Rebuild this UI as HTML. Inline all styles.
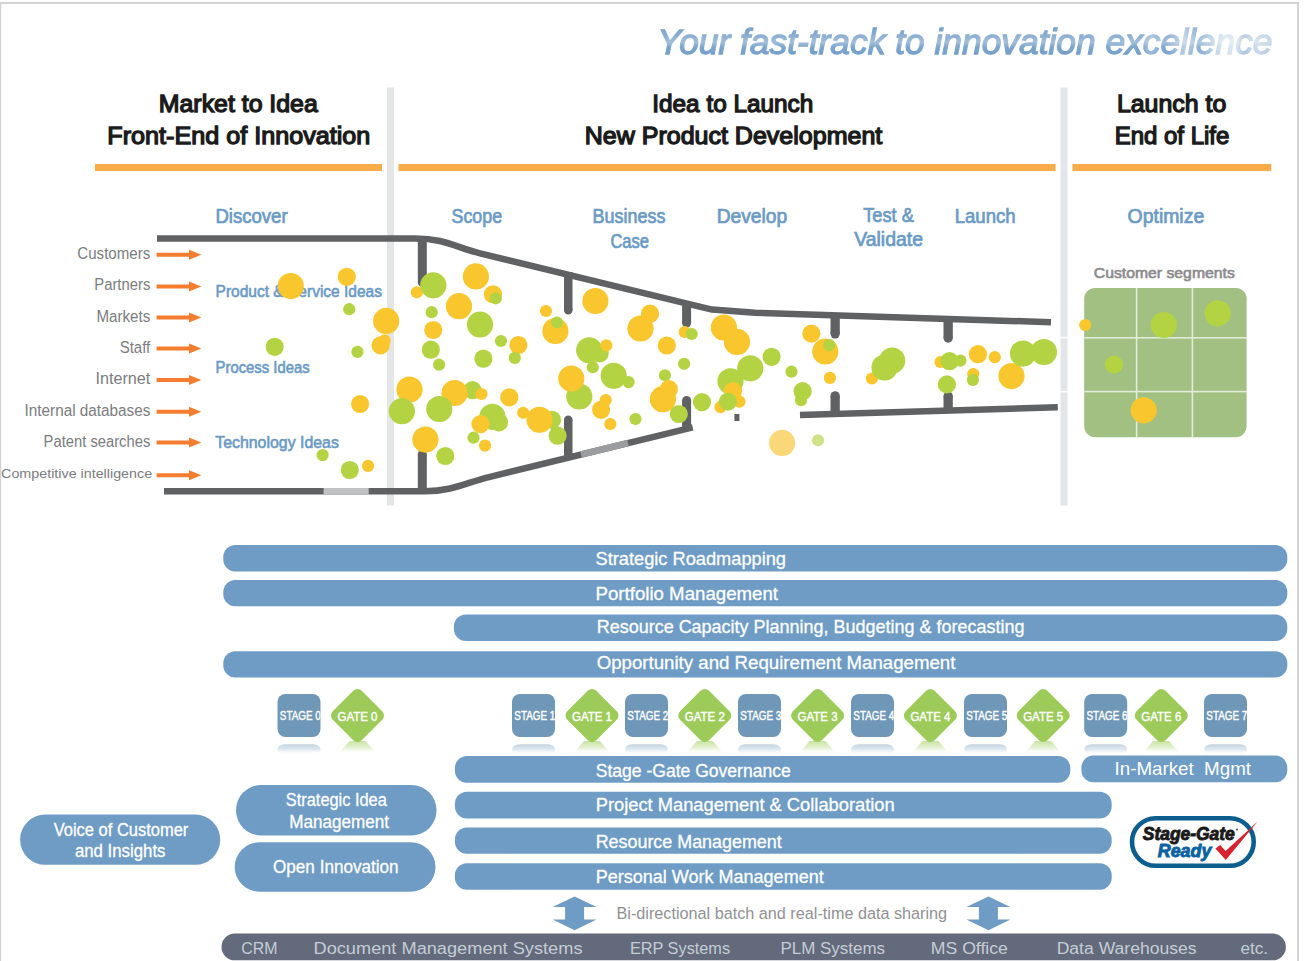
<!DOCTYPE html>
<html><head><meta charset="utf-8"><style>
html,body{margin:0;padding:0;background:#fff;}
svg{display:block;font-family:"Liberation Sans",sans-serif;}
</style></head><body>
<svg width="1308" height="961" viewBox="0 0 1308 961">
<defs>
<linearGradient id="tg" x1="0" y1="0" x2="0" y2="1">
<stop offset="0" stop-color="#6d9ac5"/><stop offset="0.3" stop-color="#86abd0"/><stop offset="0.5" stop-color="#a3bfda"/><stop offset="0.62" stop-color="#7ea6cd"/><stop offset="1" stop-color="#6898c5"/>
</linearGradient>
<linearGradient id="rs" x1="0" y1="0" x2="0" y2="1">
<stop offset="0" stop-color="#c3d3e0"/><stop offset="0.55" stop-color="#e3ebf1"/><stop offset="1" stop-color="#ffffff" stop-opacity="0"/>
</linearGradient>
<linearGradient id="rg" x1="0" y1="0" x2="0" y2="1">
<stop offset="0" stop-color="#c8e3a0"/><stop offset="0.55" stop-color="#e6f2d6"/><stop offset="1" stop-color="#ffffff" stop-opacity="0"/>
</linearGradient>
<linearGradient id="fadeg" gradientUnits="userSpaceOnUse" x1="1100" y1="0" x2="1280" y2="0">
<stop offset="0" stop-color="#fff"/><stop offset="0.22" stop-color="#fff"/><stop offset="0.28" stop-color="#bbb"/><stop offset="0.36" stop-color="#fff"/>
<stop offset="0.47" stop-color="#888"/><stop offset="0.55" stop-color="#ddd"/><stop offset="0.67" stop-color="#555"/><stop offset="0.75" stop-color="#444"/>
<stop offset="0.8" stop-color="#999"/><stop offset="0.88" stop-color="#666"/><stop offset="1" stop-color="#aaa"/>
</linearGradient>
<mask id="fadem" maskUnits="userSpaceOnUse" x="0" y="0" width="1308" height="100"><rect x="0" y="0" width="1308" height="100" fill="url(#fadeg)"/></mask>
</defs>
<rect x="0" y="2" width="1299" height="1.9" fill="#d2d2d2"/><rect x="0" y="2" width="1.2" height="959" fill="#d2d2d2"/><rect x="1297" y="2" width="1.9" height="959" fill="#d2d2d2"/>
<text x="657.5" y="54.2" font-size="35.5" fill="url(#tg)" font-weight="normal" text-anchor="start" font-style="italic" textLength="615" lengthAdjust="spacingAndGlyphs" mask="url(#fadem)" stroke="url(#tg)" stroke-width="1.3">Your fast-track to innovation excellence</text>
<text x="238.3" y="111.7" font-size="24.6" fill="#1b1b1b" font-weight="normal" text-anchor="middle" textLength="159" lengthAdjust="spacingAndGlyphs" stroke="#1b1b1b" stroke-width="1.35">Market to Idea</text>
<text x="238.8" y="143.7" font-size="24.6" fill="#1b1b1b" font-weight="normal" text-anchor="middle" textLength="263" lengthAdjust="spacingAndGlyphs" stroke="#1b1b1b" stroke-width="1.35">Front-End of Innovation</text>
<text x="732.8" y="111.7" font-size="24.6" fill="#1b1b1b" font-weight="normal" text-anchor="middle" textLength="161" lengthAdjust="spacingAndGlyphs" stroke="#1b1b1b" stroke-width="1.35">Idea to Launch</text>
<text x="733.5" y="143.7" font-size="24.6" fill="#1b1b1b" font-weight="normal" text-anchor="middle" textLength="297.6" lengthAdjust="spacingAndGlyphs" stroke="#1b1b1b" stroke-width="1.35">New Product Development</text>
<text x="1171.6" y="111.8" font-size="24.6" fill="#1b1b1b" font-weight="normal" text-anchor="middle" textLength="109.3" lengthAdjust="spacingAndGlyphs" stroke="#1b1b1b" stroke-width="1.35">Launch to</text>
<text x="1172" y="144" font-size="24.6" fill="#1b1b1b" font-weight="normal" text-anchor="middle" textLength="114.7" lengthAdjust="spacingAndGlyphs" stroke="#1b1b1b" stroke-width="1.35">End of Life</text>
<rect x="95" y="164" width="287" height="7" fill="#f9ab49"/>
<rect x="398.5" y="164" width="657" height="7" fill="#f9ab49"/>
<rect x="1072.5" y="164" width="198.7" height="7" fill="#f9ab49"/>
<rect x="387" y="87.5" width="7" height="418" fill="#e4e5e7"/>
<rect x="1060.5" y="87.5" width="7" height="418" fill="#e4e5e7"/>
<rect x="1060.5" y="337" width="7" height="1.5" fill="#fff"/><rect x="1060.5" y="391" width="7" height="1.5" fill="#fff"/>
<text x="215.4" y="223.1" font-size="19.5" fill="#6a9ac5" font-weight="normal" text-anchor="start" textLength="72.2" lengthAdjust="spacingAndGlyphs" stroke="#6a9ac5" stroke-width="0.7">Discover</text>
<text x="451.5" y="223.1" font-size="19.5" fill="#6a9ac5" font-weight="normal" text-anchor="start" textLength="50.6" lengthAdjust="spacingAndGlyphs" stroke="#6a9ac5" stroke-width="0.7">Scope</text>
<text x="592.5" y="223.3" font-size="19.5" fill="#6a9ac5" font-weight="normal" text-anchor="start" textLength="72.9" lengthAdjust="spacingAndGlyphs" stroke="#6a9ac5" stroke-width="0.7">Business</text>
<text x="610.4" y="248.3" font-size="19.5" fill="#6a9ac5" font-weight="normal" text-anchor="start" textLength="38.6" lengthAdjust="spacingAndGlyphs" stroke="#6a9ac5" stroke-width="0.7">Case</text>
<text x="716.7" y="223.3" font-size="19.5" fill="#6a9ac5" font-weight="normal" text-anchor="start" textLength="70.5" lengthAdjust="spacingAndGlyphs" stroke="#6a9ac5" stroke-width="0.7">Develop</text>
<text x="863.2" y="221.6" font-size="19.5" fill="#6a9ac5" font-weight="normal" text-anchor="start" textLength="50.6" lengthAdjust="spacingAndGlyphs" stroke="#6a9ac5" stroke-width="0.7">Test &amp;</text>
<text x="854.2" y="246" font-size="19.5" fill="#6a9ac5" font-weight="normal" text-anchor="start" textLength="68.9" lengthAdjust="spacingAndGlyphs" stroke="#6a9ac5" stroke-width="0.7">Validate</text>
<text x="954.7" y="223.3" font-size="19.5" fill="#6a9ac5" font-weight="normal" text-anchor="start" textLength="61" lengthAdjust="spacingAndGlyphs" stroke="#6a9ac5" stroke-width="0.7">Launch</text>
<text x="1127.6" y="223.3" font-size="19.5" fill="#6a9ac5" font-weight="normal" text-anchor="start" textLength="76.6" lengthAdjust="spacingAndGlyphs" stroke="#6a9ac5" stroke-width="0.7">Optimize</text>
<text x="150.3" y="259" font-size="16" fill="#7b7c7f" font-weight="normal" text-anchor="end" textLength="73" lengthAdjust="spacingAndGlyphs">Customers</text>
<text x="150.3" y="290.2" font-size="16" fill="#7b7c7f" font-weight="normal" text-anchor="end" textLength="56" lengthAdjust="spacingAndGlyphs">Partners</text>
<text x="150.3" y="321.5" font-size="16" fill="#7b7c7f" font-weight="normal" text-anchor="end" textLength="53.8" lengthAdjust="spacingAndGlyphs">Markets</text>
<text x="150.3" y="352.7" font-size="16" fill="#7b7c7f" font-weight="normal" text-anchor="end" textLength="30.6" lengthAdjust="spacingAndGlyphs">Staff</text>
<text x="150.3" y="384.3" font-size="16" fill="#7b7c7f" font-weight="normal" text-anchor="end" textLength="54.8" lengthAdjust="spacingAndGlyphs">Internet</text>
<text x="150.3" y="415.5" font-size="16" fill="#7b7c7f" font-weight="normal" text-anchor="end" textLength="125.7" lengthAdjust="spacingAndGlyphs">Internal databases</text>
<text x="150.3" y="446.6" font-size="16" fill="#7b7c7f" font-weight="normal" text-anchor="end" textLength="106.7" lengthAdjust="spacingAndGlyphs">Patent searches</text>
<text x="152.1" y="477.7" font-size="13.5" fill="#7b7c7f" font-weight="normal" text-anchor="end" textLength="151" lengthAdjust="spacingAndGlyphs">Competitive intelligence</text>
<path d="M156.6,252.8 H189 V249.8 L201.3,254.8 L189,259.8 V256.8 H156.6 Z" fill="#f47d30"/>
<path d="M156.6,284.40000000000003 H189 V281.40000000000003 L201.3,286.40000000000003 L189,291.40000000000003 V288.40000000000003 H156.6 Z" fill="#f47d30"/>
<path d="M156.6,315.40000000000003 H189 V312.40000000000003 L201.3,317.40000000000003 L189,322.40000000000003 V319.40000000000003 H156.6 Z" fill="#f47d30"/>
<path d="M156.6,346.6 H189 V343.6 L201.3,348.6 L189,353.6 V350.6 H156.6 Z" fill="#f47d30"/>
<path d="M156.6,378.1 H189 V375.1 L201.3,380.1 L189,385.1 V382.1 H156.6 Z" fill="#f47d30"/>
<path d="M156.6,409.7 H189 V406.7 L201.3,411.7 L189,416.7 V413.7 H156.6 Z" fill="#f47d30"/>
<path d="M156.6,440.5 H189 V437.5 L201.3,442.5 L189,447.5 V444.5 H156.6 Z" fill="#f47d30"/>
<path d="M156.6,473.3 H189 V470.3 L201.3,475.3 L189,480.3 V477.3 H156.6 Z" fill="#f47d30"/>
<text x="215.6" y="297" font-size="16.3" fill="#6a9ac5" font-weight="normal" text-anchor="start" textLength="166.4" lengthAdjust="spacingAndGlyphs" stroke="#6a9ac5" stroke-width="0.6">Product &amp; Service Ideas</text>
<text x="215.6" y="372.6" font-size="16.3" fill="#6a9ac5" font-weight="normal" text-anchor="start" textLength="94" lengthAdjust="spacingAndGlyphs" stroke="#6a9ac5" stroke-width="0.6">Process Ideas</text>
<text x="215.2" y="447.6" font-size="16.3" fill="#6a9ac5" font-weight="normal" text-anchor="start" textLength="123.7" lengthAdjust="spacingAndGlyphs" stroke="#6a9ac5" stroke-width="0.6">Technology Ideas</text>
<path d="M157,238.5 L415,238.5 C445,238.5 455.7,247.4 480,253.3 L684,302.8 L712,309.6 L755,312.8 L1051,322.2" fill="none" stroke="#5f6163" stroke-width="6.5" stroke-linejoin="round"/>
<path d="M164,491.3 L425,491.3 C452,491.3 465.7,482.75 490,476.8 L692.7,427.3" fill="none" stroke="#5f6163" stroke-width="6.5"/>
<path d="M800,415 L1057.8,407.3" fill="none" stroke="#5f6163" stroke-width="6.5"/>
<rect x="323.6" y="488" width="45.1" height="6.6" fill="#bfc1c2"/>
<path d="M581,454.5 L628,443" fill="none" stroke="#9a9c9e" stroke-width="6.6"/>
<rect x="417.8" y="238" width="9.0" height="44.5" fill="#5f6163"/><circle cx="422.3" cy="282.5" r="4.5" fill="#5f6163"/>
<rect x="417.8" y="454.5" width="9.0" height="37.5" fill="#5f6163"/><circle cx="422.3" cy="454.5" r="4.5" fill="#5f6163"/>
<rect x="564" y="272" width="8.5" height="38.25" fill="#5f6163"/><circle cx="568.25" cy="310.25" r="4.25" fill="#5f6163"/>
<rect x="564" y="419.65" width="8.5" height="37.35000000000002" fill="#5f6163"/><circle cx="568.25" cy="419.65" r="4.25" fill="#5f6163"/>
<rect x="682.1" y="302" width="9.0" height="21.100000000000023" fill="#5f6163"/><circle cx="686.6" cy="323.1" r="4.5" fill="#5f6163"/>
<rect x="682.1" y="400.5" width="9.0" height="29.5" fill="#5f6163"/><circle cx="686.6" cy="400.5" r="4.5" fill="#5f6163"/>
<rect x="830.5" y="313" width="9.299999999999955" height="20.850000000000023" fill="#5f6163"/><circle cx="835.15" cy="333.85" r="4.649999999999977" fill="#5f6163"/>
<rect x="830.5" y="395.84999999999997" width="9.299999999999955" height="19.150000000000034" fill="#5f6163"/><circle cx="835.15" cy="395.84999999999997" r="4.649999999999977" fill="#5f6163"/>
<rect x="943.5" y="318" width="9.299999999999955" height="20.05000000000001" fill="#5f6163"/><circle cx="948.15" cy="338.05" r="4.649999999999977" fill="#5f6163"/>
<rect x="943.5" y="396.04999999999995" width="9.299999999999955" height="15.950000000000045" fill="#5f6163"/><circle cx="948.15" cy="396.04999999999995" r="4.649999999999977" fill="#5f6163"/>
<rect x="734.4" y="414" width="5" height="7" fill="#5f6163"/>
<circle cx="290.8" cy="286.1" r="13.1" fill="#f9c62e"/>
<circle cx="346.8" cy="276.8" r="9.1" fill="#f9c62e"/>
<circle cx="349.2" cy="309.2" r="6.1" fill="#b3d343"/>
<circle cx="386.2" cy="320.9" r="13.1" fill="#f9c62e"/>
<circle cx="380.6" cy="345.4" r="9.1" fill="#f9c62e"/>
<circle cx="384.6" cy="340.4" r="6.1" fill="#f9c62e"/>
<circle cx="274.7" cy="346.8" r="9.1" fill="#b3d343"/>
<circle cx="357.4" cy="351.9" r="6.1" fill="#b3d343"/>
<circle cx="360.1" cy="404" r="9.1" fill="#f9c62e"/>
<circle cx="322.6" cy="455.1" r="6.1" fill="#b3d343"/>
<circle cx="349.8" cy="470" r="9.1" fill="#b3d343"/>
<circle cx="368.1" cy="465.9" r="6.1" fill="#f9c62e"/>
<circle cx="409.5" cy="389.5" r="13.1" fill="#f9c62e"/>
<circle cx="401.9" cy="411.2" r="13.1" fill="#b3d343"/>
<circle cx="416.8" cy="292.3" r="6.1" fill="#f9c62e"/>
<circle cx="433.3" cy="285.3" r="13.1" fill="#b3d343"/>
<circle cx="475.9" cy="276.4" r="13.1" fill="#f9c62e"/>
<circle cx="493" cy="294.3" r="9.1" fill="#f9c62e"/>
<circle cx="495.8" cy="298.3" r="6.1" fill="#b3d343"/>
<circle cx="459" cy="306.2" r="13.1" fill="#f9c62e"/>
<circle cx="431.7" cy="312.2" r="6.1" fill="#b3d343"/>
<circle cx="433.3" cy="330" r="9.1" fill="#f9c62e"/>
<circle cx="480" cy="324.5" r="13.1" fill="#b3d343"/>
<circle cx="430.8" cy="349.7" r="9.1" fill="#b3d343"/>
<circle cx="439.1" cy="364.7" r="6.1" fill="#b3d343"/>
<circle cx="483.4" cy="358.7" r="9.1" fill="#b3d343"/>
<circle cx="500.9" cy="341" r="6.1" fill="#b3d343"/>
<circle cx="518.4" cy="345" r="9.1" fill="#f9c62e"/>
<circle cx="514.8" cy="357.9" r="6.1" fill="#b3d343"/>
<circle cx="472.5" cy="390.1" r="9.1" fill="#b3d343"/>
<circle cx="454.6" cy="393" r="13.1" fill="#f9c62e"/>
<circle cx="481.5" cy="394" r="6.1" fill="#f9c62e"/>
<circle cx="439.3" cy="409" r="13.1" fill="#b3d343"/>
<circle cx="425.4" cy="439.6" r="13.1" fill="#f9c62e"/>
<circle cx="445.3" cy="456" r="9.1" fill="#b3d343"/>
<circle cx="492.4" cy="416.8" r="13.1" fill="#b3d343"/>
<circle cx="499" cy="422.3" r="9.1" fill="#b3d343"/>
<circle cx="480.5" cy="424.1" r="9.1" fill="#f9c62e"/>
<circle cx="473.5" cy="437.7" r="6.1" fill="#b3d343"/>
<circle cx="485" cy="445.6" r="6.1" fill="#f9c62e"/>
<circle cx="509.3" cy="397.3" r="9.1" fill="#f9c62e"/>
<circle cx="523.2" cy="412.8" r="6.1" fill="#f9c62e"/>
<circle cx="552" cy="419.8" r="9.1" fill="#b3d343"/>
<circle cx="539.5" cy="419.8" r="13.1" fill="#f9c62e"/>
<circle cx="557.6" cy="435.7" r="9.1" fill="#b3d343"/>
<circle cx="546" cy="311" r="6.1" fill="#f9c62e"/>
<circle cx="555.4" cy="331" r="13.1" fill="#f9c62e"/>
<circle cx="557" cy="322.5" r="6.1" fill="#b3d343"/>
<circle cx="595.4" cy="301" r="13.1" fill="#f9c62e"/>
<circle cx="589.2" cy="350.3" r="13.1" fill="#b3d343"/>
<circle cx="599.7" cy="353.3" r="9.1" fill="#b3d343"/>
<circle cx="606.3" cy="345.4" r="6.1" fill="#f9c62e"/>
<circle cx="592.8" cy="367.2" r="6.1" fill="#b3d343"/>
<circle cx="613.7" cy="375.8" r="13.1" fill="#b3d343"/>
<circle cx="628.6" cy="382.1" r="6.1" fill="#b3d343"/>
<circle cx="579.3" cy="396.5" r="13.1" fill="#b3d343"/>
<circle cx="571.3" cy="378.6" r="13.1" fill="#f9c62e"/>
<circle cx="601.1" cy="409.8" r="9.1" fill="#f9c62e"/>
<circle cx="605.7" cy="400" r="6.1" fill="#f9c62e"/>
<circle cx="635.5" cy="419" r="6.1" fill="#b3d343"/>
<circle cx="610.3" cy="424" r="6.1" fill="#f9c62e"/>
<circle cx="640.5" cy="328.5" r="13.1" fill="#f9c62e"/>
<circle cx="650" cy="313.7" r="9.1" fill="#f9c62e"/>
<circle cx="666.8" cy="345.5" r="9.1" fill="#f9c62e"/>
<circle cx="684.7" cy="332" r="6.1" fill="#f9c62e"/>
<circle cx="691.7" cy="334" r="6.1" fill="#b3d343"/>
<circle cx="684.1" cy="363.8" r="6.1" fill="#b3d343"/>
<circle cx="664.9" cy="375.3" r="6.1" fill="#b3d343"/>
<circle cx="662.9" cy="399.2" r="13.1" fill="#f9c62e"/>
<circle cx="668.8" cy="389.2" r="9.1" fill="#f9c62e"/>
<circle cx="678.8" cy="414" r="9.1" fill="#b3d343"/>
<circle cx="702" cy="402.1" r="9.1" fill="#b3d343"/>
<circle cx="723.9" cy="327.6" r="13.1" fill="#f9c62e"/>
<circle cx="737" cy="341.9" r="13.1" fill="#f9c62e"/>
<circle cx="750.3" cy="368.3" r="13.1" fill="#b3d343"/>
<circle cx="771.6" cy="356.8" r="9.1" fill="#b3d343"/>
<circle cx="730.5" cy="381.3" r="13.1" fill="#b3d343"/>
<circle cx="733" cy="391.2" r="9.1" fill="#f9c62e"/>
<circle cx="739.4" cy="401.6" r="6.1" fill="#f9c62e"/>
<circle cx="720.5" cy="407.1" r="6.1" fill="#f9c62e"/>
<circle cx="727.9" cy="401.6" r="9.1" fill="#b3d343"/>
<circle cx="791.5" cy="371.7" r="6.1" fill="#b3d343"/>
<circle cx="802.6" cy="391.2" r="9.1" fill="#b3d343"/>
<circle cx="801" cy="400.2" r="6.1" fill="#b3d343"/>
<circle cx="811.4" cy="333.6" r="9.1" fill="#f9c62e"/>
<circle cx="825.3" cy="351.5" r="13.1" fill="#f9c62e"/>
<circle cx="829.3" cy="345.1" r="6.1" fill="#b3d343"/>
<circle cx="829.9" cy="377.9" r="6.1" fill="#f9c62e"/>
<circle cx="782.1" cy="442.9" r="13.1" fill="#fad87a"/>
<circle cx="818" cy="440.3" r="6.1" fill="#cfe28a"/>
<circle cx="871.9" cy="378.5" r="6.1" fill="#f9c62e"/>
<circle cx="884.5" cy="367.5" r="13.1" fill="#b3d343"/>
<circle cx="892.2" cy="360.6" r="13.1" fill="#b3d343"/>
<circle cx="940.5" cy="362" r="6.1" fill="#f9c62e"/>
<circle cx="949.5" cy="361.2" r="9.1" fill="#b3d343"/>
<circle cx="960.4" cy="360.6" r="6.1" fill="#b3d343"/>
<circle cx="946.9" cy="384.4" r="9.1" fill="#b3d343"/>
<circle cx="977.9" cy="354.2" r="9.1" fill="#f9c62e"/>
<circle cx="994.8" cy="357.2" r="6.1" fill="#f9c62e"/>
<circle cx="973.3" cy="374.1" r="6.1" fill="#f9c62e"/>
<circle cx="972.9" cy="379.9" r="6.1" fill="#b3d343"/>
<circle cx="1011.5" cy="376.1" r="13.1" fill="#f9c62e"/>
<circle cx="1023" cy="353.6" r="13.1" fill="#b3d343"/>
<circle cx="1043.9" cy="352" r="13.1" fill="#b3d343"/>
<text x="1164.3" y="277.7" font-size="14.7" fill="#8a8b8d" font-weight="normal" text-anchor="middle" textLength="141" lengthAdjust="spacingAndGlyphs" stroke="#8a8b8d" stroke-width="0.6">Customer segments</text>
<rect x="1084.2" y="287.9" width="162.4" height="149.4" rx="11" fill="#a1c082"/>
<rect x="1135.8" y="287.9" width="1.6" height="149.4" fill="#e3ecd8"/>
<rect x="1191.6000000000001" y="287.9" width="1.6" height="149.4" fill="#e3ecd8"/>
<rect x="1084.2" y="337.0" width="162.4" height="1.6" fill="#e3ecd8"/>
<rect x="1084.2" y="390.8" width="162.4" height="1.6" fill="#e3ecd8"/>
<circle cx="1085.2" cy="325" r="6.1" fill="#f9c62e"/>
<circle cx="1163.8" cy="325" r="13.1" fill="#b3d343"/>
<circle cx="1217.6" cy="313.3" r="13.1" fill="#b3d343"/>
<circle cx="1114" cy="364.6" r="9.1" fill="#b3d343"/>
<circle cx="1143.7" cy="410.3" r="13.1" fill="#f9c62e"/>
<rect x="223.3" y="545" width="1064.0" height="26.399999999999977" rx="12" fill="#6e9cc5"/>
<text x="595.5" y="564.9" font-size="18.2" fill="#fff" font-weight="normal" text-anchor="start" textLength="190.5" lengthAdjust="spacingAndGlyphs" stroke="#fff" stroke-width="0.3">Strategic Roadmapping</text>
<rect x="223.3" y="580.1" width="1064.0" height="26.100000000000023" rx="12" fill="#6e9cc5"/>
<text x="595.5" y="599.6" font-size="18.2" fill="#fff" font-weight="normal" text-anchor="start" textLength="182.5" lengthAdjust="spacingAndGlyphs" stroke="#fff" stroke-width="0.3">Portfolio Management</text>
<rect x="453.9" y="614.5" width="833.4" height="26.5" rx="12" fill="#6e9cc5"/>
<text x="596.7" y="633.4" font-size="18.2" fill="#fff" font-weight="normal" text-anchor="start" textLength="427.8" lengthAdjust="spacingAndGlyphs" stroke="#fff" stroke-width="0.3">Resource Capacity Planning, Budgeting &amp; forecasting</text>
<rect x="223.3" y="651.3" width="1064.0" height="26.200000000000045" rx="12" fill="#6e9cc5"/>
<text x="596.7" y="669.2" font-size="18.2" fill="#fff" font-weight="normal" text-anchor="start" textLength="358.7" lengthAdjust="spacingAndGlyphs" stroke="#fff" stroke-width="0.3">Opportunity and Requirement Management</text>
<rect x="277.5" y="744.2" width="43" height="10.5" rx="7" fill="url(#rs)"/>
<rect x="277.5" y="694" width="43" height="43" rx="8" fill="#6f97b7"/>
<svg x="277.5" y="694" width="43" height="43" overflow="hidden"><text x="2.3" y="26" font-size="12.8" fill="#fff" font-weight="normal" text-anchor="start" textLength="41" lengthAdjust="spacingAndGlyphs" stroke="#fff" stroke-width="0.4">STAGE 0</text>
</svg>
<path d="M349.5,741.0 L365.5,741.0 L376.5,754.0 L338.5,754.0 Z" fill="url(#rg)"/>
<rect x="337.0" y="695.0" width="41" height="41" rx="6" fill="#9ccb59" transform="rotate(45 357.5 715.5)"/>
<text x="357.5" y="720.5" font-size="12.8" fill="#fff" font-weight="normal" text-anchor="middle" textLength="40" lengthAdjust="spacingAndGlyphs" stroke="#fff" stroke-width="0.4">GATE 0</text>
<rect x="512" y="744.2" width="43" height="10.5" rx="7" fill="url(#rs)"/>
<rect x="512" y="694" width="43" height="43" rx="8" fill="#6f97b7"/>
<svg x="512" y="694" width="43" height="43" overflow="hidden"><text x="2.3" y="26" font-size="12.8" fill="#fff" font-weight="normal" text-anchor="start" textLength="41" lengthAdjust="spacingAndGlyphs" stroke="#fff" stroke-width="0.4">STAGE 1</text>
</svg>
<path d="M584.0,741.0 L600.0,741.0 L611.0,754.0 L573.0,754.0 Z" fill="url(#rg)"/>
<rect x="571.5" y="695.0" width="41" height="41" rx="6" fill="#9ccb59" transform="rotate(45 592.0 715.5)"/>
<text x="592.0" y="720.5" font-size="12.8" fill="#fff" font-weight="normal" text-anchor="middle" textLength="40" lengthAdjust="spacingAndGlyphs" stroke="#fff" stroke-width="0.4">GATE 1</text>
<rect x="625" y="744.2" width="43" height="10.5" rx="7" fill="url(#rs)"/>
<rect x="625" y="694" width="43" height="43" rx="8" fill="#6f97b7"/>
<svg x="625" y="694" width="43" height="43" overflow="hidden"><text x="2.3" y="26" font-size="12.8" fill="#fff" font-weight="normal" text-anchor="start" textLength="41" lengthAdjust="spacingAndGlyphs" stroke="#fff" stroke-width="0.4">STAGE 2</text>
</svg>
<path d="M696.8,741.0 L712.8,741.0 L723.8,754.0 L685.8,754.0 Z" fill="url(#rg)"/>
<rect x="684.3" y="695.0" width="41" height="41" rx="6" fill="#9ccb59" transform="rotate(45 704.8 715.5)"/>
<text x="704.8" y="720.5" font-size="12.8" fill="#fff" font-weight="normal" text-anchor="middle" textLength="40" lengthAdjust="spacingAndGlyphs" stroke="#fff" stroke-width="0.4">GATE 2</text>
<rect x="738" y="744.2" width="43" height="10.5" rx="7" fill="url(#rs)"/>
<rect x="738" y="694" width="43" height="43" rx="8" fill="#6f97b7"/>
<svg x="738" y="694" width="43" height="43" overflow="hidden"><text x="2.3" y="26" font-size="12.8" fill="#fff" font-weight="normal" text-anchor="start" textLength="41" lengthAdjust="spacingAndGlyphs" stroke="#fff" stroke-width="0.4">STAGE 3</text>
</svg>
<path d="M809.6,741.0 L825.6,741.0 L836.6,754.0 L798.6,754.0 Z" fill="url(#rg)"/>
<rect x="797.1" y="695.0" width="41" height="41" rx="6" fill="#9ccb59" transform="rotate(45 817.6 715.5)"/>
<text x="817.6" y="720.5" font-size="12.8" fill="#fff" font-weight="normal" text-anchor="middle" textLength="40" lengthAdjust="spacingAndGlyphs" stroke="#fff" stroke-width="0.4">GATE 3</text>
<rect x="851" y="744.2" width="43" height="10.5" rx="7" fill="url(#rs)"/>
<rect x="851" y="694" width="43" height="43" rx="8" fill="#6f97b7"/>
<svg x="851" y="694" width="43" height="43" overflow="hidden"><text x="2.3" y="26" font-size="12.8" fill="#fff" font-weight="normal" text-anchor="start" textLength="41" lengthAdjust="spacingAndGlyphs" stroke="#fff" stroke-width="0.4">STAGE 4</text>
</svg>
<path d="M922.4,741.0 L938.4,741.0 L949.4,754.0 L911.4,754.0 Z" fill="url(#rg)"/>
<rect x="909.9" y="695.0" width="41" height="41" rx="6" fill="#9ccb59" transform="rotate(45 930.4 715.5)"/>
<text x="930.4" y="720.5" font-size="12.8" fill="#fff" font-weight="normal" text-anchor="middle" textLength="40" lengthAdjust="spacingAndGlyphs" stroke="#fff" stroke-width="0.4">GATE 4</text>
<rect x="964" y="744.2" width="43" height="10.5" rx="7" fill="url(#rs)"/>
<rect x="964" y="694" width="43" height="43" rx="8" fill="#6f97b7"/>
<svg x="964" y="694" width="43" height="43" overflow="hidden"><text x="2.3" y="26" font-size="12.8" fill="#fff" font-weight="normal" text-anchor="start" textLength="41" lengthAdjust="spacingAndGlyphs" stroke="#fff" stroke-width="0.4">STAGE 5</text>
</svg>
<path d="M1035.2,741.0 L1051.2,741.0 L1062.2,754.0 L1024.2,754.0 Z" fill="url(#rg)"/>
<rect x="1022.7" y="695.0" width="41" height="41" rx="6" fill="#9ccb59" transform="rotate(45 1043.2 715.5)"/>
<text x="1043.2" y="720.5" font-size="12.8" fill="#fff" font-weight="normal" text-anchor="middle" textLength="40" lengthAdjust="spacingAndGlyphs" stroke="#fff" stroke-width="0.4">GATE 5</text>
<rect x="1084.2" y="744.2" width="43" height="10.5" rx="7" fill="url(#rs)"/>
<rect x="1084.2" y="694" width="43" height="43" rx="8" fill="#6f97b7"/>
<svg x="1084.2" y="694" width="43" height="43" overflow="hidden"><text x="2.3" y="26" font-size="12.8" fill="#fff" font-weight="normal" text-anchor="start" textLength="41" lengthAdjust="spacingAndGlyphs" stroke="#fff" stroke-width="0.4">STAGE 6</text>
</svg>
<path d="M1153.3,741.0 L1169.3,741.0 L1180.3,754.0 L1142.3,754.0 Z" fill="url(#rg)"/>
<rect x="1140.8" y="695.0" width="41" height="41" rx="6" fill="#9ccb59" transform="rotate(45 1161.3 715.5)"/>
<text x="1161.3" y="720.5" font-size="12.8" fill="#fff" font-weight="normal" text-anchor="middle" textLength="40" lengthAdjust="spacingAndGlyphs" stroke="#fff" stroke-width="0.4">GATE 6</text>
<rect x="1204" y="744.2" width="43" height="10.5" rx="7" fill="url(#rs)"/>
<rect x="1204" y="694" width="43" height="43" rx="8" fill="#6f97b7"/>
<svg x="1204" y="694" width="43" height="43" overflow="hidden"><text x="2.3" y="26" font-size="12.8" fill="#fff" font-weight="normal" text-anchor="start" textLength="41" lengthAdjust="spacingAndGlyphs" stroke="#fff" stroke-width="0.4">STAGE 7</text>
</svg>
<rect x="454.9" y="756" width="615.4" height="26.799999999999955" rx="12" fill="#6e9cc5"/>
<text x="595.7" y="776.8" font-size="18.2" fill="#fff" font-weight="normal" text-anchor="start" textLength="195" lengthAdjust="spacingAndGlyphs" stroke="#fff" stroke-width="0.3">Stage -Gate Governance</text>
<rect x="1081.4" y="755.6" width="205.89999999999986" height="26.699999999999932" rx="12" fill="#6e9cc5"/>
<text x="1114.5" y="774.8" font-size="18.2" fill="#fff" font-weight="normal" text-anchor="start" textLength="136.5" lengthAdjust="spacingAndGlyphs">In-Market&#160; Mgmt</text>
<rect x="454.9" y="791.7" width="656.8000000000001" height="26.899999999999977" rx="12" fill="#6e9cc5"/>
<text x="595.7" y="810.6" font-size="18.2" fill="#fff" font-weight="normal" text-anchor="start" textLength="299" lengthAdjust="spacingAndGlyphs" stroke="#fff" stroke-width="0.3">Project Management &amp; Collaboration</text>
<rect x="454.9" y="827.5" width="656.8000000000001" height="26.299999999999955" rx="12" fill="#6e9cc5"/>
<text x="595.7" y="847.8" font-size="18.2" fill="#fff" font-weight="normal" text-anchor="start" textLength="186" lengthAdjust="spacingAndGlyphs" stroke="#fff" stroke-width="0.3">Resource Management</text>
<rect x="454.9" y="863.3" width="656.8000000000001" height="26.5" rx="12" fill="#6e9cc5"/>
<text x="595.7" y="882.8" font-size="18.2" fill="#fff" font-weight="normal" text-anchor="start" textLength="228" lengthAdjust="spacingAndGlyphs" stroke="#fff" stroke-width="0.3">Personal Work Management</text>
<rect x="20.1" y="814.6" width="200.1" height="50.2" rx="25" fill="#6e9cc5"/>
<text x="121" y="835.5" font-size="17.5" fill="#fff" font-weight="normal" text-anchor="middle" textLength="134.6" lengthAdjust="spacingAndGlyphs" stroke="#fff" stroke-width="0.3">Voice of Customer</text>
<text x="120.2" y="856.7" font-size="17.5" fill="#fff" font-weight="normal" text-anchor="middle" textLength="90.5" lengthAdjust="spacingAndGlyphs" stroke="#fff" stroke-width="0.3">and Insights</text>
<rect x="236" y="785" width="200.5" height="50.5" rx="25" fill="#6e9cc5"/>
<text x="336.3" y="806.2" font-size="17.5" fill="#fff" font-weight="normal" text-anchor="middle" textLength="100.9" lengthAdjust="spacingAndGlyphs" stroke="#fff" stroke-width="0.3">Strategic Idea</text>
<text x="339.1" y="828.1" font-size="17.5" fill="#fff" font-weight="normal" text-anchor="middle" textLength="99.8" lengthAdjust="spacingAndGlyphs" stroke="#fff" stroke-width="0.3">Management</text>
<rect x="234.7" y="842.2" width="200.8" height="49.5" rx="25" fill="#6e9cc5"/>
<text x="335.8" y="873.2" font-size="17.5" fill="#fff" font-weight="normal" text-anchor="middle" textLength="125.5" lengthAdjust="spacingAndGlyphs" stroke="#fff" stroke-width="0.3">Open Innovation</text>
<rect x="1132" y="818.3" width="121.7" height="47.5" rx="23.7" fill="#fff" stroke="#0b5e8e" stroke-width="4.6"/>
<text x="1142.8" y="840" font-size="17.5" fill="#1a1a1a" font-weight="bold" text-anchor="start" font-style="italic" textLength="92" lengthAdjust="spacingAndGlyphs" stroke="#1a1a1a" stroke-width="0.9">Stage-Gate</text>
<text x="1157.8" y="856.9" font-size="17.5" fill="#0b64a0" font-weight="bold" text-anchor="start" font-style="italic" textLength="53.5" lengthAdjust="spacingAndGlyphs" stroke="#0b64a0" stroke-width="0.9">Ready</text>
<path d="M1215.4,848.6 L1220.1,845.1 L1225.6,850.9 L1257.6,821.5 L1225.8,860 Z" fill="#d7232f"/>
<circle cx="1237" cy="829.5" r="1.1" fill="#555"/>
<path d="M574.6,896.4 L596.6,907 H584.1 V919.4 H596.6 L574.6,930.2 L552.6,919.4 H565.1 V907 H552.6 Z" fill="#6e9cc5"/>
<path d="M988.4,896.4 L1010.4,907 H997.9 V919.4 H1010.4 L988.4,930.2 L966.4,919.4 H978.9 V907 H966.4 Z" fill="#6e9cc5"/>
<text x="616.5" y="918.9" font-size="16.8" fill="#909194" font-weight="normal" text-anchor="start" textLength="330.6" lengthAdjust="spacingAndGlyphs">Bi-directional batch and real-time data sharing</text>
<rect x="221.5" y="933.5" width="1064.4" height="26.8" rx="13.4" fill="#636a7c"/>
<text x="241.2" y="953.8" font-size="17.3" fill="#c5cdd4" font-weight="normal" text-anchor="start" textLength="36.2" lengthAdjust="spacingAndGlyphs">CRM</text>
<text x="313.5" y="953.8" font-size="17.3" fill="#c5cdd4" font-weight="normal" text-anchor="start" textLength="269" lengthAdjust="spacingAndGlyphs">Document Management Systems</text>
<text x="629.9" y="953.8" font-size="17.3" fill="#c5cdd4" font-weight="normal" text-anchor="start" textLength="100.2" lengthAdjust="spacingAndGlyphs">ERP Systems</text>
<text x="780.4" y="953.8" font-size="17.3" fill="#c5cdd4" font-weight="normal" text-anchor="start" textLength="104.6" lengthAdjust="spacingAndGlyphs">PLM Systems</text>
<text x="930.8" y="953.8" font-size="17.3" fill="#c5cdd4" font-weight="normal" text-anchor="start" textLength="77.1" lengthAdjust="spacingAndGlyphs">MS Office</text>
<text x="1056.7" y="953.8" font-size="17.3" fill="#c5cdd4" font-weight="normal" text-anchor="start" textLength="139.8" lengthAdjust="spacingAndGlyphs">Data Warehouses</text>
<text x="1240.6" y="953.8" font-size="17.3" fill="#c5cdd4" font-weight="normal" text-anchor="start" textLength="27.5" lengthAdjust="spacingAndGlyphs">etc.</text>
</svg></body></html>
